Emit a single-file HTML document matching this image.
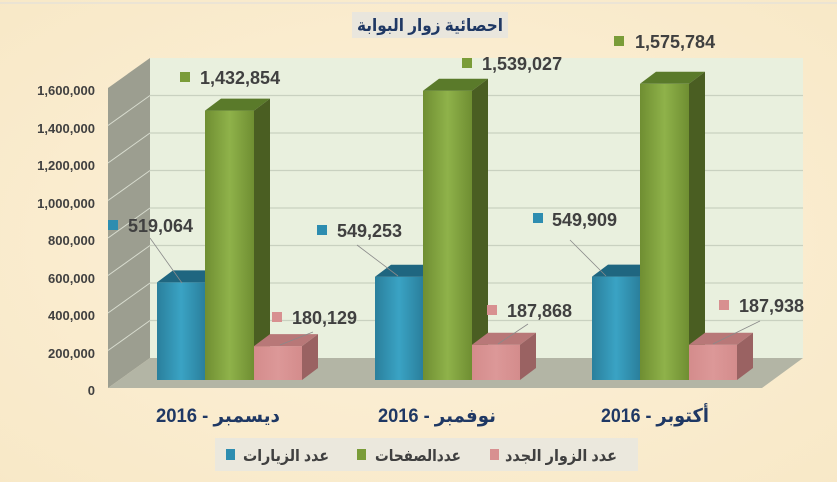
<!DOCTYPE html>
<html><head><meta charset="utf-8"><style>
html,body{margin:0;padding:0;background:#fbefd5;}
svg{display:block;}
text{font-family:"Liberation Sans","DejaVu Sans",sans-serif;}
</style></head><body>
<svg width="837" height="482" viewBox="0 0 837 482" xmlns="http://www.w3.org/2000/svg">
<defs>
<radialGradient id="bg" cx="50%" cy="50%" r="75%"><stop offset="0" stop-color="#fcf1da"/><stop offset="1" stop-color="#f8e8c6"/></radialGradient>
<linearGradient id="gb" x1="0" x2="1"><stop offset="0" stop-color="#2a7f9c"/><stop offset="0.5" stop-color="#3aa3c4"/><stop offset="1" stop-color="#2a7f9c"/></linearGradient>
<linearGradient id="gg" x1="0" x2="1"><stop offset="0" stop-color="#6f8e32"/><stop offset="0.5" stop-color="#8fb24a"/><stop offset="1" stop-color="#6f8e32"/></linearGradient>
<linearGradient id="gp" x1="0" x2="1"><stop offset="0" stop-color="#d48c8c"/><stop offset="0.5" stop-color="#dc9898"/><stop offset="1" stop-color="#d48c8c"/></linearGradient>
</defs>
<rect width="837" height="482" fill="url(#bg)"/>
<line x1="0" y1="3" x2="837" y2="3" stroke="#dedede" stroke-width="1"/>
<!-- title -->
<rect x="352" y="12" width="156" height="26" fill="#e9e6dd"/>
<text x="430" y="31" text-anchor="middle" font-size="17" font-weight="bold" fill="#1f3864" direction="rtl" textLength="146" lengthAdjust="spacingAndGlyphs">احصائية زوار البوابة</text>
<!-- walls -->
<rect x="150" y="58" width="653" height="300" fill="#e9f0de"/>
<polygon points="108,88 150,58 150,358 108,388" fill="#9c9e90"/>
<polygon points="108,388 150,358 803,358 762,388" fill="#b3b5a5"/>
<g stroke="#c9d1c0" stroke-width="1.2">
<line x1="150" y1="95.5" x2="803" y2="95.5"/><line x1="150" y1="133" x2="803" y2="133"/>
<line x1="150" y1="170.5" x2="803" y2="170.5"/><line x1="150" y1="208" x2="803" y2="208"/>
<line x1="150" y1="245.5" x2="803" y2="245.5"/><line x1="150" y1="283" x2="803" y2="283"/>
<line x1="150" y1="320.5" x2="803" y2="320.5"/>
</g>
<g stroke="#d8dccf" stroke-width="1">
<line x1="108" y1="125.5" x2="150" y2="95.5"/><line x1="108" y1="163" x2="150" y2="133"/>
<line x1="108" y1="200.5" x2="150" y2="170.5"/><line x1="108" y1="238" x2="150" y2="208"/>
<line x1="108" y1="275.5" x2="150" y2="245.5"/><line x1="108" y1="313" x2="150" y2="283"/>
<line x1="108" y1="350.5" x2="150" y2="320.5"/>
</g>
<!-- y labels -->
<g font-size="13" font-weight="bold" fill="#404040" text-anchor="end">
<text x="95" y="95">1,600,000</text><text x="95" y="133">1,400,000</text>
<text x="95" y="170">1,200,000</text><text x="95" y="208">1,000,000</text>
<text x="95" y="245">800,000</text><text x="95" y="283">600,000</text>
<text x="95" y="320">400,000</text><text x="95" y="358">200,000</text>
<text x="95" y="395">0</text>
</g>
<!-- group 1 -->
<g>
<rect x="157" y="282.4" width="48" height="97.6" fill="url(#gb)"/>
<polygon points="157,282.4 173,270.4 221,270.4 205,282.4" fill="#1f6680"/>
<rect x="205" y="110.6" width="49" height="269.4" fill="url(#gg)"/>
<polygon points="205,110.6 221,98.6 270,98.6 254,110.6" fill="#5a7a2a"/>
<polygon points="254,110.6 270,98.6 270,368 254,380" fill="#4a5e22"/>
<rect x="254" y="346.1" width="48" height="33.9" fill="url(#gp)"/>
<polygon points="254,346.1 270,334.1 318,334.1 302,346.1" fill="#b87878"/>
<polygon points="302,346.1 318,334.1 318,368 302,380" fill="#9a6262"/>
</g>
<!-- group 2 -->
<g>
<rect x="375" y="276.7" width="48" height="103.3" fill="url(#gb)"/>
<polygon points="375,276.7 391,264.7 439,264.7 423,276.7" fill="#1f6680"/>
<rect x="423" y="90.7" width="49" height="289.3" fill="url(#gg)"/>
<polygon points="423,90.7 439,78.7 488,78.7 472,90.7" fill="#5a7a2a"/>
<polygon points="472,90.7 488,78.7 488,368 472,380" fill="#4a5e22"/>
<rect x="472" y="344.7" width="48" height="35.3" fill="url(#gp)"/>
<polygon points="472,344.7 488,332.7 536,332.7 520,344.7" fill="#b87878"/>
<polygon points="520,344.7 536,332.7 536,368 520,380" fill="#9a6262"/>
</g>
<!-- group 3 -->
<g>
<rect x="592" y="276.6" width="48" height="103.4" fill="url(#gb)"/>
<polygon points="592,276.6 608,264.6 656,264.6 640,276.6" fill="#1f6680"/>
<rect x="640" y="83.8" width="49" height="296.2" fill="url(#gg)"/>
<polygon points="640,83.8 656,71.8 705,71.8 689,83.8" fill="#5a7a2a"/>
<polygon points="689,83.8 705,71.8 705,368 689,380" fill="#4a5e22"/>
<rect x="689" y="344.7" width="48" height="35.3" fill="url(#gp)"/>
<polygon points="689,344.7 705,332.7 753,332.7 737,344.7" fill="#b87878"/>
<polygon points="737,344.7 753,332.7 753,368 737,380" fill="#9a6262"/>
</g>
<!-- leader lines -->
<g stroke="#8a8a8a" stroke-width="0.8" fill="none">
<line x1="150" y1="238" x2="182" y2="283"/>
<line x1="357" y1="245" x2="398" y2="276"/>
<line x1="570" y1="240" x2="606" y2="276"/>
<line x1="313" y1="332" x2="280" y2="345"/>
<line x1="528" y1="324" x2="498" y2="344"/>
<line x1="760" y1="321" x2="713" y2="344"/>
</g>
<!-- data labels -->
<g font-size="18" font-weight="bold" fill="#404040">
<rect x="108" y="220" width="10" height="10" fill="#2d8db0"/><text x="128" y="232">519,064</text>
<rect x="180" y="72" width="10" height="10" fill="#7a9c38"/><text x="200" y="84">1,432,854</text>
<rect x="272" y="312" width="10" height="10" fill="#d89090"/><text x="292" y="324">180,129</text>
<rect x="317" y="225" width="10" height="10" fill="#2d8db0"/><text x="337" y="237">549,253</text>
<rect x="462" y="58" width="10" height="10" fill="#7a9c38"/><text x="482" y="70">1,539,027</text>
<rect x="487" y="305" width="10" height="10" fill="#d89090"/><text x="507" y="317">187,868</text>
<rect x="533" y="213" width="10" height="10" fill="#2d8db0"/><text x="552" y="226">549,909</text>
<rect x="614" y="36" width="10" height="10" fill="#7a9c38"/><text x="635" y="48">1,575,784</text>
<rect x="719" y="300" width="10" height="10" fill="#d89090"/><text x="739" y="312">187,938</text>
</g>
<!-- categories -->
<g font-size="19" font-weight="bold" fill="#1f3864" text-anchor="middle">
<text x="218" y="422" direction="rtl" textLength="124" lengthAdjust="spacingAndGlyphs">ديسمبر - 2016</text>
<text x="437" y="422" direction="rtl" textLength="118" lengthAdjust="spacingAndGlyphs">نوفمبر - 2016</text>
<text x="655" y="422" direction="rtl" textLength="108" lengthAdjust="spacingAndGlyphs">أكتوبر - 2016</text>
</g>
<!-- legend -->
<rect x="215" y="438" width="423" height="33" fill="#ebe8dd"/>
<g font-size="16" font-weight="bold" fill="#404040">
<rect x="226" y="449" width="9" height="11" fill="#2d8db0"/>
<text x="286" y="461" text-anchor="middle" direction="rtl" textLength="86" lengthAdjust="spacingAndGlyphs">عدد الزيارات</text>
<rect x="357" y="449" width="9" height="11" fill="#7a9c38"/>
<text x="418" y="461" text-anchor="middle" direction="rtl" textLength="86" lengthAdjust="spacingAndGlyphs">عددالصفحات</text>
<rect x="490" y="449" width="9" height="11" fill="#d89090"/>
<text x="561" y="461" text-anchor="middle" direction="rtl" textLength="112" lengthAdjust="spacingAndGlyphs">عدد الزوار الجدد</text>
</g>
</svg>
</body></html>
